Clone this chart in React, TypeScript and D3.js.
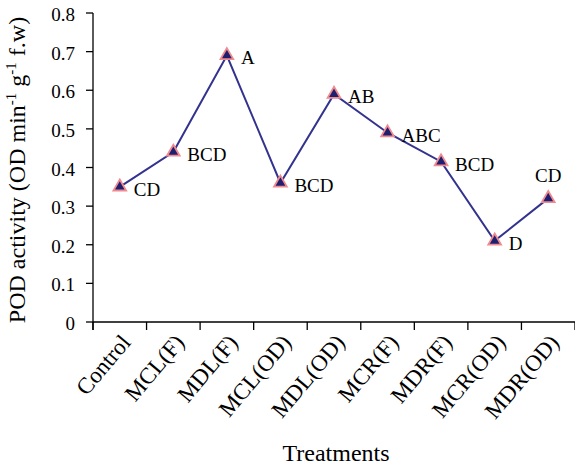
import React from 'react';
import * as d3 from 'd3';

// Treatments on the x axis
const treatments = ['Control', 'MCL(F)', 'MDL(F)', 'MCL(OD)', 'MDL(OD)', 'MCR(F)', 'MDR(F)', 'MCR(OD)', 'MDR(OD)'];
// POD activity values
const podValues = [0.35, 0.44, 0.69, 0.36, 0.59, 0.49, 0.415, 0.21, 0.32];
// significance letters
const letters = ['CD', 'BCD', 'A', 'BCD', 'AB', 'ABC', 'BCD', 'D', 'CD'];
const letterPlacement = ['right', 'right', 'right', 'right', 'right', 'right', 'right', 'right', 'above'];
const yTicks = [0, 0.1, 0.2, 0.3, 0.4, 0.5, 0.6, 0.7, 0.8];

const W = 575;
const H = 467;
const FONT = "'Liberation Serif', 'DejaVu Serif', serif";

const App = () => {
  const margin = { left: 93, right: 0, top: 13, bottom: 145 };

  const xScale = d3.scaleBand<string>()
    .domain(treatments)
    .range([margin.left, W - margin.right])
    .padding(0);

  const yScale = d3.scaleLinear()
    .domain([0, 0.8])
    .range([H - margin.bottom, margin.top]);

  const y0 = yScale(0);
  const bw = xScale.bandwidth();
  const cx = (t: string) => (xScale(t) as number) + bw / 2;

  const line = d3.line<number>()
    .x((d, i) => cx(treatments[i]))
    .y(d => yScale(d));

  const triangle = d3.symbol().type(d3.symbolTriangle).size(70)();

  // boundaries between categories for the tick marks
  const boundaries = treatments.map(t => xScale(t) as number).concat([W - margin.right]);

  return (
    <svg width={W} height={H} style={{ position: 'absolute', left: 0, top: 0, background: '#fff', fontFamily: FONT }}>
      {/* y axis */}
      <line x1={margin.left} x2={margin.left} y1={margin.top} y2={y0 + 8} stroke="#000" strokeWidth={1.3} />
      {yTicks.map(t => (
        <g key={t}>
          <line x1={margin.left - 7} x2={margin.left} y1={yScale(t)} y2={yScale(t)} stroke="#000" strokeWidth={1.3} />
          <text x={margin.left - 18} y={yScale(t) + 8} textAnchor="end" fontSize={19} fill="#000">
            {t === 0 ? '0' : t.toFixed(1)}
          </text>
        </g>
      ))}

      {/* x axis */}
      <line x1={margin.left} x2={W} y1={y0} y2={y0} stroke="#000" strokeWidth={1.3} />
      {boundaries.map((b, i) => (
        <line key={i} x1={b} x2={b} y1={y0} y2={y0 + 8} stroke="#000" strokeWidth={1.3} />
      ))}
      {treatments.map(t => (
        <text key={t} transform={`translate(${cx(t) + 12},${y0 + 21}) rotate(-50)`} textAnchor="end" fontSize={23} fill="#000">
          {t}
        </text>
      ))}

      {/* data line */}
      <path d={line(podValues) || ''} fill="none" stroke="#33338f" strokeWidth={2} />
      {podValues.map((v, i) => (
        <path key={i} d={triangle || ''} transform={`translate(${cx(treatments[i])},${yScale(v)})`}
          fill="#1f1f70" stroke="#f08a8f" strokeWidth={1.8} />
      ))}

      {/* letters */}
      {podValues.map((v, i) => (
        letterPlacement[i] === 'above'
          ? <text key={i} x={cx(treatments[i])} y={yScale(v) - 16} textAnchor="middle" fontSize={19} fill="#000">{letters[i]}</text>
          : <text key={i} x={cx(treatments[i]) + 14} y={yScale(v) + 9} textAnchor="start" fontSize={19} fill="#000">{letters[i]}</text>
      ))}

      {/* axis titles */}
      <text x={(margin.left + W) / 2 + 2} y={461} textAnchor="middle" fontSize={24} fill="#000">Treatments</text>
      <text transform={`translate(25,170) rotate(-90)`} textAnchor="middle" fontSize={24} fill="#000">
        POD activity (OD min<tspan dy={-9} fontSize={15}>-1</tspan><tspan dy={9}> g</tspan><tspan dy={-9} fontSize={15}>-1</tspan><tspan dy={9}> f.w)</tspan>
      </text>
    </svg>
  );
};

export default App;
